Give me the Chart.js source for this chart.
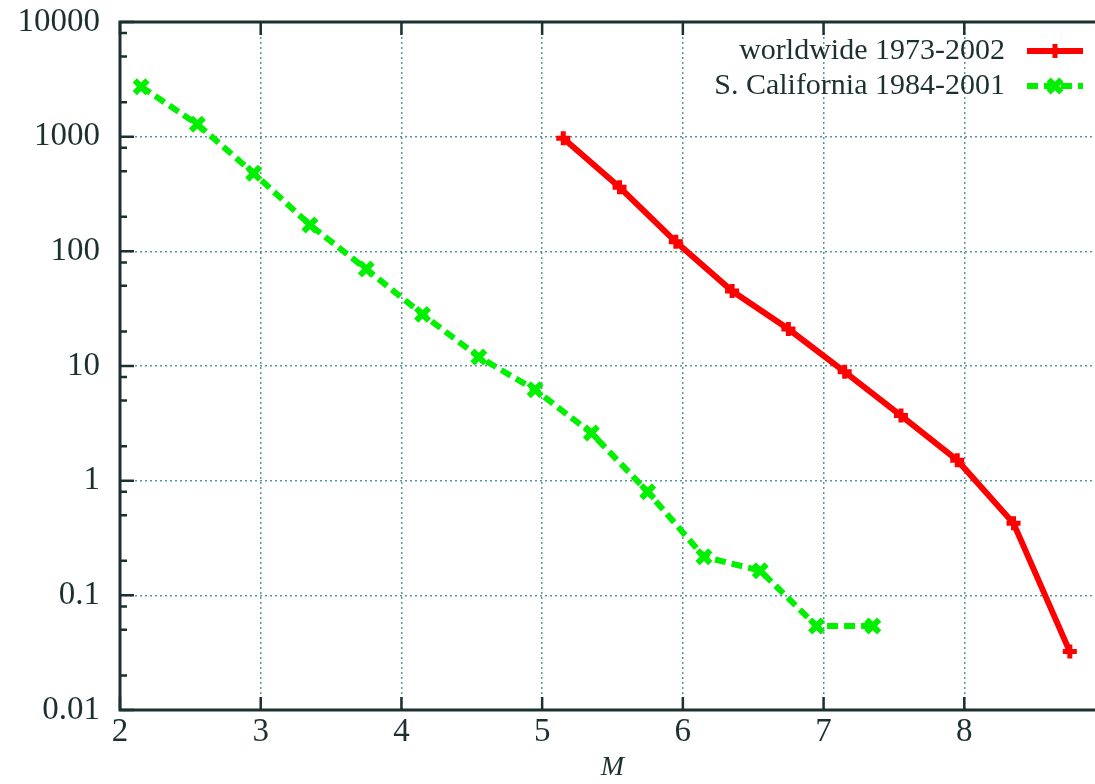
<!DOCTYPE html>
<html>
<head>
<meta charset="utf-8">
<script src="https://cdn.jsdelivr.net/npm/chart.js"></script>
<style>
  html, body { margin: 0; padding: 0; background: #fff; overflow: hidden; }
  #wrap { width: 1120px; height: 784px; position: relative; }
</style>
</head>
<body>
<div id="wrap"><canvas id="rateChart"></canvas></div>
<script>
// magnitude bins and rates
var worldM = [5.15, 5.55, 5.95, 6.35, 6.75, 7.15, 7.55, 7.95, 8.35, 8.75];
var worldRate = [967, 362, 121, 45, 21, 8.9, 3.7, 1.51, 0.425, 0.0323];
var calM = [2.15, 2.55, 2.95, 3.35, 3.75, 4.15, 4.55, 4.95, 5.35, 5.75, 6.15, 6.55, 6.95, 7.35];
var calRate = [2730, 1282, 480, 170, 70, 28.2, 12, 6.2, 2.6, 0.80, 0.217, 0.164, 0.054, 0.054];

var yTickValues = [0.01, 0.1, 1, 10, 100, 1000, 10000];
var yTickLabels = ['0.01', '0.1', '1', '10', '100', '1000', '10000'];
var yMinorFactors = [2, 5, 8];
var xTickValues = [2, 3, 4, 5, 6, 7, 8, 9];

var seriesNames = ['worldwide 1973-2002', 'S. California 1984-2001'];

var inkColor = '#1c3030';
var gridColor = 'rgba(70,140,150,0.9)';
var serif = "'Liberation Serif', 'DejaVu Serif', serif";

function toXY(xs, ys) {
	return xs.map(function(x, i) { return {x: x, y: ys[i]}; });
}

// frame, inward ticks (gnuplot look)
var framePlugin = {
	id: 'frame',
	beforeDatasetsDraw: function(chart) {
		var ctx = chart.ctx;
		var a = chart.chartArea;
		var xs = chart.scales.x;
		var ys = chart.scales.y;
		ctx.save();
		ctx.strokeStyle = inkColor;
		ctx.lineWidth = 3;
		ctx.beginPath();
		ctx.moveTo(a.right, a.top);
		ctx.lineTo(a.left, a.top);
		ctx.lineTo(a.left, a.bottom);
		ctx.lineTo(a.right, a.bottom);
		ctx.stroke();

		ctx.lineWidth = 2.5;
		ctx.beginPath();
		xTickValues.forEach(function(v) {
			var px = xs.getPixelForValue(v);
			ctx.moveTo(px, a.bottom);
			ctx.lineTo(px, a.bottom - 13);
			ctx.moveTo(px, a.top);
			ctx.lineTo(px, a.top + 13);
		});
		yTickValues.forEach(function(v, i) {
			var py = ys.getPixelForValue(v);
			ctx.moveTo(a.left, py);
			ctx.lineTo(a.left + 14, py);
			if (i < yTickValues.length - 1) {
				yMinorFactors.forEach(function(f) {
					var my = ys.getPixelForValue(v * f);
					ctx.moveTo(a.left, my);
					ctx.lineTo(a.left + 7, my);
				});
			}
		});
		ctx.stroke();
		ctx.restore();
	}
};

// key in the top right corner, text left of sample
var keyPlugin = {
	id: 'key',
	afterDraw: function(chart) {
		var ctx = chart.ctx;
		var a = chart.chartArea;
		ctx.save();
		ctx.font = '30px ' + serif;
		ctx.textAlign = 'right';
		ctx.textBaseline = 'middle';
		chart.data.datasets.forEach(function(ds, i) {
			var y = a.top + 29 + i * 35;
			ctx.fillStyle = inkColor;
			ctx.fillText(ds.label, a.right - 100, y);
			var x0 = a.right - 78, x1 = a.right - 22, xm = (x0 + x1) / 2;
			ctx.strokeStyle = ds.borderColor;
			ctx.lineWidth = ds.borderWidth;
			ctx.setLineDash(ds.borderDash || []);
			ctx.beginPath();
			ctx.moveTo(x0, y);
			ctx.lineTo(x1, y);
			ctx.stroke();
			ctx.setLineDash([]);
			ctx.lineWidth = ds.pointBorderWidth;
			var r = ds.pointRadius;
			ctx.beginPath();
			if (ds.pointStyle === 'cross') {
				ctx.moveTo(xm - r, y); ctx.lineTo(xm + r, y);
				ctx.moveTo(xm, y - r); ctx.lineTo(xm, y + r);
			} else {
				var d = r * 0.7071;
				ctx.moveTo(xm - d, y - d); ctx.lineTo(xm + d, y + d);
				ctx.moveTo(xm - d, y + d); ctx.lineTo(xm + d, y - d);
			}
			ctx.stroke();
		});
		ctx.restore();
	}
};

var ctx = document.getElementById('rateChart').getContext('2d');

new Chart(ctx, {
	type: 'line',
	data: {
		datasets: [
			{
				label: seriesNames[0],
				data: toXY(worldM, worldRate),
				borderColor: '#ff0000',
				backgroundColor: '#ff0000',
				borderWidth: 6,
				pointStyle: 'cross',
				pointRadius: 7,
				pointBorderWidth: 5,
				pointBorderColor: '#ff0000',
				tension: 0
			},
			{
				label: seriesNames[1],
				data: toXY(calM, calRate),
				borderColor: '#00f000',
				backgroundColor: '#00f000',
				borderWidth: 6,
				borderDash: [11, 6],
				pointStyle: 'crossRot',
				pointRadius: 9,
				pointBorderWidth: 6,
				pointBorderColor: '#00f000',
				tension: 0
			}
		]
	},
	options: {
		responsive: true,
		maintainAspectRatio: false,
		animation: false,
		layout: { padding: { top: 22, right: 15, left: 0, bottom: 0 } },
		plugins: {
			legend: { display: false },
			tooltip: { enabled: false }
		},
		scales: {
			x: {
				type: 'linear',
				min: 2,
				max: 9,
				afterBuildTicks: function(scale) {
					scale.ticks = xTickValues.map(function(v) { return {value: v}; });
				},
				afterFit: function(scale) {
					scale.height = 74;
					scale.paddingLeft = 0;
					scale.paddingRight = 0;
				},
				border: { display: false, dash: [2, 3] },
				grid: {
					drawTicks: false,
					lineWidth: 1.5,
					color: function(c) {
						var v = c.tick ? c.tick.value : null;
						return (v === 2 || v === 9) ? 'rgba(0,0,0,0)' : gridColor;
					}
				},
				ticks: {
					autoSkip: false,
					maxRotation: 0,
					padding: 3,
					color: inkColor,
					font: { family: serif, size: 33 },
					callback: function(v) { return String(v); }
				},
				title: {
					display: true,
					text: 'M',
					color: inkColor,
					padding: { top: 0, bottom: 0 },
					font: { family: serif, size: 28, style: 'italic' }
				}
			},
			y: {
				type: 'logarithmic',
				min: 0.01,
				max: 10000,
				afterBuildTicks: function(scale) {
					scale.ticks = yTickValues.map(function(v) { return {value: v}; });
				},
				afterFit: function(scale) {
					scale.width = 120;
					scale.paddingTop = 0;
					scale.paddingBottom = 0;
				},
				border: { display: false, dash: [2, 3] },
				grid: {
					drawTicks: false,
					lineWidth: 1.5,
					color: function(c) {
						var v = c.tick ? c.tick.value : null;
						return (v === 0.01 || v === 10000) ? 'rgba(0,0,0,0)' : gridColor;
					}
				},
				ticks: {
					autoSkip: false,
					padding: 20,
					color: inkColor,
					font: { family: serif, size: 33 },
					callback: function(v) {
						var i = yTickValues.indexOf(v);
						return i >= 0 ? yTickLabels[i] : '';
					}
				}
			}
		}
	},
	plugins: [framePlugin, keyPlugin]
});
</script>
</body>
</html>
